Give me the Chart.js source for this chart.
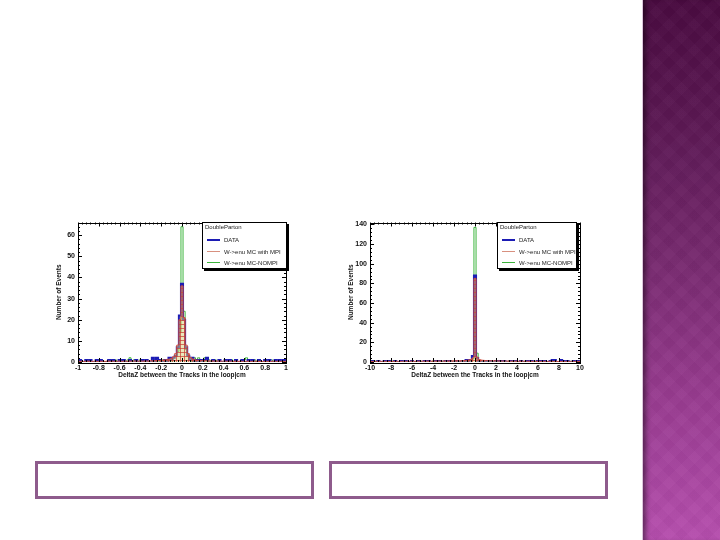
<!DOCTYPE html>
<html>
<head>
<meta charset="utf-8">
<script src="https://cdn.jsdelivr.net/npm/chart.js@4"></script>
<style>
  html, body { margin: 0; padding: 0; background: #fff; }
  body { width: 720px; height: 540px; position: relative; overflow: hidden; font-family: "Liberation Sans", Arial, sans-serif; }
  .plot { position: absolute; width: 260px; height: 178px; }
  .legend { position: absolute; background: #fff; border: 1px solid #000; box-shadow: 2px 2px 0 #000; box-sizing: border-box; font-size: 6px; color: #222; }
  .legend .ltitle { position: absolute; left: 2px; top: 0; line-height: 8px; }
  .legend .row { position: absolute; left: 0; height: 10px; line-height: 10px; white-space: nowrap; }
  .legend .sw { position: absolute; left: 4px; top: 4px; width: 13px; }
  .legend .txt { position: absolute; left: 21px; top: 0; }
  .box { position: absolute; border: 3px solid #8e5b8c; box-sizing: border-box; }
  .side {
    position: absolute; left: 642px; top: 0; width: 78px; height: 540px;
    border-left: 1px solid #dcc6dc; box-sizing: border-box;
    background:
      repeating-linear-gradient(45deg, rgba(255,255,255,0.015) 0 9px, rgba(0,0,0,0.015) 9px 18px),
      repeating-linear-gradient(-45deg, rgba(255,255,255,0.015) 0 9px, rgba(0,0,0,0.015) 9px 18px),
      linear-gradient(to bottom, #4a0b41 0%, #5a1752 22%, #772a6f 48%, #983c90 74%, #b64eae 100%);
    box-shadow: inset 6px 0 5px -3px rgba(0,0,0,0.45);
  }
</style>
</head>
<body>
<div class="side"></div>

<div class="plot" style="left:40px; top:212px;"><canvas id="leftChart"></canvas></div>
<div class="plot" style="left:332px; top:212px;"><canvas id="rightChart"></canvas></div>

<div class="legend" style="left:202px; top:222px; width:85px; height:47px;">
  <div class="ltitle">DoubleParton</div>
  <div class="row" style="top:12px"><span class="sw" style="border-top:2px solid #1c1cb4"></span><span class="txt">DATA</span></div>
  <div class="row" style="top:23.5px"><span class="sw" style="border-top:1px solid #d8907f"></span><span class="txt">W-&gt;enu MC with MPI</span></div>
  <div class="row" style="top:35px"><span class="sw" style="border-top:1px solid #3cb43c"></span><span class="txt">W-&gt;enu MC-NOMPI</span></div>
</div>
<div class="legend" style="left:497px; top:222px; width:80px; height:47px;">
  <div class="ltitle">DoubleParton</div>
  <div class="row" style="top:12px"><span class="sw" style="border-top:2px solid #1c1cb4"></span><span class="txt">DATA</span></div>
  <div class="row" style="top:23.5px"><span class="sw" style="border-top:1px solid #d8907f"></span><span class="txt">W-&gt;enu MC with MPI</span></div>
  <div class="row" style="top:35px"><span class="sw" style="border-top:1px solid #3cb43c"></span><span class="txt">W-&gt;enu MC-NOMPI</span></div>
</div>

<div class="box" style="left:35px; top:461px; width:279px; height:38px;"></div>
<div class="box" style="left:329px; top:461px; width:279px; height:38px;"></div>

<script>
// ---- data ----
const seriesNames = ["DATA", "W->enu MC with MPI", "W->enu MC-NOMPI"];

// left plot: DeltaZ in [-1, 1], 101 bins of 0.02 (index 50 = 0)
const leftBinMin = -1, leftBinWidth = 0.02;
const leftYTicks = [0, 10, 20, 30, 40, 50, 60];
const leftXTicks = [-1, -0.8, -0.6, -0.4, -0.2, 0, 0.2, 0.4, 0.6, 0.8, 1];
const leftData = [
  0,1,0,0,1,0,1,0,0,1,
  0,1,0,0,0,1,0,1,0,0,
  1,0,1,0,0,1,0,0,1,0,
  0,1,0,1,0,0,2,0,2,1,
  0,0,1,0,2,1,2,3,7,22,
  37,
  20,7,3,1,2,0,1,0,1,0,
  1,2,0,0,1,0,0,1,0,0,
  1,0,1,0,0,1,0,0,1,0,
  0,1,0,1,0,0,1,0,0,1,
  0,1,0,0,1,0,1,0,1,0
];
const leftMpi = [
  0.3,0.3,0.4,0.3,0.3,0.4,0.3,0.3,0.4,0.3,
  0.3,0.4,0.3,0.3,0.4,0.4,0.3,0.4,0.3,0.4,
  0.4,0.3,0.4,0.4,0.3,0.4,0.4,0.5,0.4,0.4,
  0.5,0.4,0.5,0.5,0.5,0.6,0.5,0.6,0.7,0.7,
  0.8,0.9,1.0,1.2,1.4,1.8,2.5,4,8,20,
  36,
  21,8,4,2.2,1.5,1.1,0.9,0.8,0.7,0.7,
  0.6,0.6,0.5,0.5,0.5,0.4,0.5,0.4,0.4,0.4,
  0.4,0.3,0.4,0.4,0.3,0.4,0.3,0.4,0.3,0.3,
  0.3,0.4,0.3,0.3,0.3,0.4,0.3,0.3,0.3,0.3,
  0.3,0.3,0.3,0.4,0.3,0.3,0.3,0.3,0.3,0.3
];
const leftNoMpi = [
  0,0,0,0,0,1,0,0,0,0,
  0,0,0,0,0,0,1,0,1,0,
  0,0,0,0,1,2,0,1,0,0,
  1,0,0,0,0,0,0,0,0,1,
  0,1,0,0,1,0,2,3,5,14,
  64,
  24,6,3,1,0,2,0,2,1,0,
  2,0,1,0,0,1,0,1,0,0,
  1,0,0,1,0,1,0,0,0,1,
  2,0,0,0,1,0,0,0,0,0,
  0,0,1,0,0,0,1,0,0,0
];

// right plot: DeltaZ in [-10, 10], 101 bins of 0.2 (index 50 = 0)
const rightBinMin = -10, rightBinWidth = 0.2;
const rightYTicks = [0, 20, 40, 60, 80, 100, 120, 140];
const rightXTicks = [-10, -8, -6, -4, -2, 0, 2, 4, 6, 8, 10];
const rightData = [
  0,1,0,0,1,0,0,1,0,1,
  0,0,1,0,0,1,0,1,0,0,
  1,0,0,1,0,0,1,0,1,0,
  0,1,0,1,0,0,1,0,1,0,
  0,1,0,0,1,0,2,1,2,6,
  88,
  4,1,0,0,1,0,1,0,0,1,
  0,1,0,1,0,0,1,0,1,0,
  0,1,0,0,1,0,1,0,0,1,
  1,0,1,0,0,1,2,2,0,0,
  2,1,0,1,0,0,1,0,1,0
];
const rightMpi = [
  0.6,0.6,0.7,0.6,0.6,0.7,0.6,0.7,0.7,0.6,
  0.7,0.7,0.6,0.7,0.7,0.7,0.8,0.7,0.7,0.8,
  0.8,0.7,0.8,0.8,0.8,0.9,0.8,0.9,0.9,0.9,
  0.9,1.0,0.9,1.0,1.0,1.0,1.1,1.0,1.1,1.1,
  1.2,1.2,1.3,1.3,1.4,1.5,1.7,2.0,2.5,4,
  85,
  5,2.5,2.0,1.7,1.5,1.4,1.3,1.3,1.2,1.2,
  1.1,1.1,1.0,1.0,1.0,1.0,0.9,0.9,0.9,0.9,
  0.8,0.9,0.8,0.8,0.8,0.8,0.7,0.8,0.7,0.7,
  0.7,0.7,0.7,0.7,0.6,0.7,0.7,0.6,0.6,0.6,
  0.6,0.6,0.6,0.6,0.6,0.6,0.6,0.6,0.6,0.6
];
const rightNoMpi = [
  0,0,0,1,0,0,0,0,0,0,
  0,1,0,0,0,0,0,0,1,0,
  0,0,0,0,1,0,0,0,0,0,
  1,0,0,0,0,1,0,0,0,1,
  0,0,1,0,0,1,0,1,2,3,
  137,
  9,2,1,0,1,0,0,1,0,0,
  0,1,0,0,0,1,0,0,0,1,
  0,0,0,1,0,0,0,0,1,0,
  0,0,1,0,0,0,0,1,0,0,
  0,0,0,0,1,0,0,0,0,0
];

// ---- helpers ----
function toPoints(values, binMin, binWidth) {
  return values.map((v, i) => ({ x: +(binMin + i * binWidth).toFixed(3), y: v }));
}

function makeHatch() {
  const c = document.createElement("canvas");
  c.width = 4; c.height = 4;
  const g = c.getContext("2d");
  g.fillStyle = "rgba(214, 210, 120, 0.5)";
  g.fillRect(0, 0, 4, 4);
  g.fillStyle = "rgba(200, 60, 50, 0.7)";
  g.fillRect(0, 0, 4, 1);
  g.fillRect(0, 0, 1, 4);
  return g.createPattern(c, "repeat");
}

// ROOT style frame with inner ticks on all four sides
const frameTicks = {
  id: "frameTicks",
  afterDatasetsDraw(chart, args, opts) {
    const { ctx, chartArea: a, scales: { x, y } } = chart;
    ctx.save();
    ctx.strokeStyle = "#000";
    ctx.lineWidth = 1;
    ctx.strokeRect(Math.round(a.left) + 0.5, Math.round(a.top) + 0.5,
                   Math.round(a.right - a.left), Math.round(a.bottom - a.top));
    ctx.beginPath();
    const nx = Math.round((x.max - x.min) / opts.xMinor);
    for (let k = 0; k <= nx; k++) {
      const px = Math.round(x.getPixelForValue(x.min + k * opts.xMinor)) + 0.5;
      const len = k % 5 === 0 ? 4 : 2;
      ctx.moveTo(px, a.bottom); ctx.lineTo(px, a.bottom - len);
      ctx.moveTo(px, a.top); ctx.lineTo(px, a.top + len);
    }
    const ny = Math.floor((y.max - y.min) / opts.yMinor + 1e-6);
    for (let k = 0; k <= ny; k++) {
      const py = Math.round(y.getPixelForValue(y.min + k * opts.yMinor)) + 0.5;
      const len = k % 5 === 0 ? 4 : 2;
      ctx.moveTo(a.left, py); ctx.lineTo(a.left + len, py);
      ctx.moveTo(a.right, py); ctx.lineTo(a.right - len, py);
    }
    ctx.stroke();
    ctx.restore();
  }
};

Chart.defaults.font.family = "'Liberation Sans', Arial, sans-serif";
Chart.defaults.animation = false;

function makeChart(id, cfg) {
  const hatch = makeHatch();
  const tickFont = { size: 7, weight: "bold" };
  return new Chart(document.getElementById(id), {
    type: "line",
    data: {
      datasets: [
        {
          label: seriesNames[1],
          data: toPoints(cfg.mpi, cfg.binMin, cfg.binWidth),
          borderColor: "#cf4a3c",
          borderWidth: 1,
          backgroundColor: hatch,
          fill: "origin",
          stepped: "middle",
          pointRadius: 0,
          order: 0
        },
        {
          label: seriesNames[0],
          data: toPoints(cfg.data, cfg.binMin, cfg.binWidth),
          borderColor: "#1c1cb4",
          borderWidth: 2,
          fill: false,
          stepped: "middle",
          pointRadius: 0,
          order: 1
        },
        {
          label: seriesNames[2],
          data: toPoints(cfg.nompi, cfg.binMin, cfg.binWidth),
          borderColor: "#3cb43c",
          borderWidth: 1,
          fill: false,
          stepped: "middle",
          pointRadius: 0,
          order: 2
        }
      ]
    },
    options: {
      responsive: true,
      maintainAspectRatio: false,
      layout: { padding: { top: 10.5, right: cfg.padRight, left: 0, bottom: 0 } },
      plugins: {
        legend: { display: false },
        tooltip: { enabled: false },
        frameTicks: { xMinor: cfg.xMinor, yMinor: cfg.yMinor }
      },
      scales: {
        x: {
          type: "linear",
          min: cfg.xTicks[0],
          max: cfg.xTicks[cfg.xTicks.length - 1],
          afterBuildTicks: s => { s.ticks = cfg.xTicks.map(v => ({ value: v })); },
          afterFit: s => { s.height = 28; },
          grid: { display: false, drawTicks: false },
          border: { display: false },
          ticks: { font: tickFont, color: "#111", padding: 2, maxRotation: 0, autoSkip: false,
                   callback: v => String(+v.toFixed(2)) },
          title: { display: true, text: "DeltaZ between the Tracks in the loop|cm",
                   font: { size: 6.5, weight: "bold" }, color: "#111", padding: { top: 0, bottom: 11 } }
        },
        y: {
          min: 0,
          max: cfg.yMax,
          afterBuildTicks: s => { s.ticks = cfg.yTicks.map(v => ({ value: v })); },
          afterFit: s => { s.width = 38; },
          grid: { display: false, drawTicks: false },
          border: { display: false },
          ticks: { font: tickFont, color: "#111", padding: 3 },
          title: { display: true, text: "Number of Events",
                   font: { size: 6.5, weight: "bold" }, color: "#111", padding: { top: 15, bottom: 0 } }
        }
      }
    },
    plugins: [frameTicks]
  });
}

makeChart("leftChart", {
  data: leftData, mpi: leftMpi, nompi: leftNoMpi,
  binMin: leftBinMin, binWidth: leftBinWidth,
  xTicks: leftXTicks, yTicks: leftYTicks, yMax: 66,
  xMinor: 0.04, yMinor: 2, padRight: 14
});
makeChart("rightChart", {
  data: rightData, mpi: rightMpi, nompi: rightNoMpi,
  binMin: rightBinMin, binWidth: rightBinWidth,
  xTicks: rightXTicks, yTicks: rightYTicks, yMax: 142,
  xMinor: 0.4, yMinor: 4, padRight: 12
});
</script>
</body>
</html>
